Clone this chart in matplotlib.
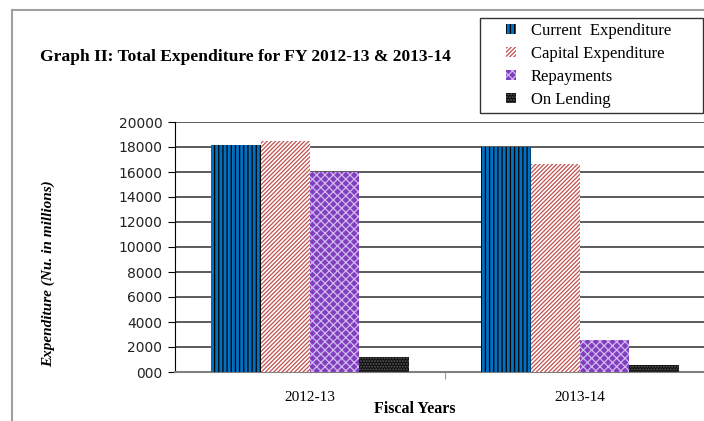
#!/usr/bin/env python3

import matplotlib
matplotlib.use('Agg')
import matplotlib.pyplot as plt
import numpy as np
from matplotlib.patches import Rectangle
from matplotlib.lines import Line2D

years = ['2012-13', '2013-14']
series = ['Current  Expenditure', 'Capital Expenditure', 'Repayments', 'On Lending']
current_exp = [18130, 18000]
capital_exp = [18480, 16680]
repayments = [16000, 2590]
on_lending = [1200, 590]
yticks = [0, 2000, 4000, 6000, 8000, 10000, 12000, 14000, 16000, 18000, 20000]
ytick_labels = ['000', '2000', '4000', '6000', '8000', '10000', '12000',
                '14000', '16000', '18000', '20000']


def main():
    '''Main function'''
    W, H = 704, 421
    fig = plt.figure(figsize=(W / 100, H / 100), dpi=100)
    ax = fig.add_axes([175 / W, 1 - 372 / H, 540 / W, 250 / H])

    serif = 'Liberation Serif'
    plt.rcParams['hatch.linewidth'] = 0.9
    # face, hatch colour, hatch pattern
    styles = [('#0070C0', '#000000', '||||'),
              ('#FFFFFF', '#C0504D', '////////'),
              ('#7F3FBF', '#D4B8EE', 'xxxx'),
              ('#111111', '#5A5A5A', '......')]
    values = [current_exp, capital_exp, repayments, on_lending]

    x = np.arange(len(years))
    width = 0.1825
    handles = []
    for i, (vals, (fc, hc, hatch)) in enumerate(zip(values, styles)):
        pos = x + (i - 1.5) * width
        bars = ax.bar(pos, vals, width=width, color=fc, edgecolor=hc,
                      hatch=hatch, linewidth=0, zorder=3)
        handles.append(bars[0])

    ax.set_xlim(-0.5, 1.5)
    ax.set_ylim(0, 20000)
    ax.set_yticks(yticks)
    ax.set_yticklabels(ytick_labels, fontsize=10, color='#222222')
    ax.set_xticks(x)
    ax.set_xticklabels(years, fontsize=11, family=serif)
    ax.set_xticks([0.5], minor=True)
    ax.tick_params(axis='x', which='major', length=0, pad=14)
    ax.tick_params(axis='x', which='minor', length=5, color='#808080')
    ax.tick_params(axis='y', length=5, direction='out', pad=4)

    ax.grid(axis='y', color='#404040', linewidth=1.2, zorder=0)
    for s in ['top', 'right']:
        ax.spines[s].set_visible(False)
    ax.spines['bottom'].set_color('#808080')
    ax.spines['bottom'].set_linewidth(1.5)
    ax.spines['left'].set_color('#000000')

    # Outer frame lines
    fig.add_artist(Line2D([12 / W, 12 / W], [0, 1 - 10 / H], color='#A0A0A0', lw=1.5))
    fig.add_artist(Line2D([12 / W, 1], [1 - 10 / H, 1 - 10 / H], color='#A0A0A0', lw=1.5))

    # Title and labels
    fig.text(40 / W, 1 - 57 / H, 'Graph II: Total Expenditure for FY 2012-13 & 2013-14',
             family=serif, fontweight='bold', fontsize=12.6, va='center', ha='left')
    fig.text(48 / W, 1 - 274 / H, 'Expenditure (Nu. in millions)', family=serif,
             fontweight='bold', style='italic', fontsize=11, rotation=90,
             va='center', ha='center')
    fig.text(415 / W, 1 - 409 / H, 'Fiscal Years', family=serif,
             fontweight='bold', fontsize=11.5, va='center', ha='center')

    # Legend box
    fig.add_artist(Rectangle((480 / W, 1 - 113 / H), 223 / W, 95 / H,
                             transform=fig.transFigure, fill=False,
                             edgecolor='#333333', lw=1))
    fig.legend(handles, series, loc='upper left',
               bbox_to_anchor=(506 / W, 1 - 23 / H), frameon=False,
               prop={'family': serif, 'size': 12}, handlelength=0.6,
               handleheight=0.6, handletextpad=0.9, labelspacing=0.42,
               borderaxespad=0, borderpad=0)

    plt.savefig('out.png', dpi=100)


if __name__ == '__main__':
    main()
